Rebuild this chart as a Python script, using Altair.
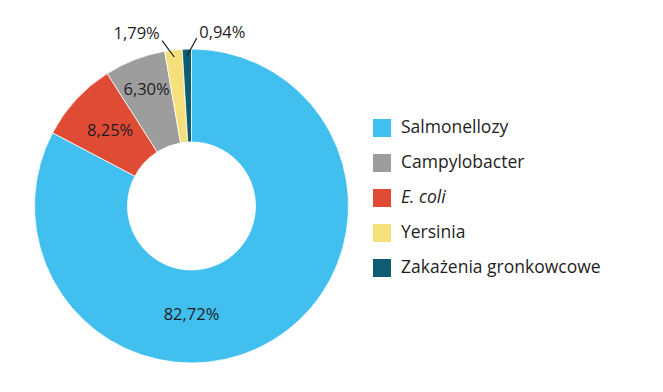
import math
import altair as alt
import pandas as pd

# ---- data ----
categories = ["Salmonellozy", "Campylobacter", "E. coli", "Yersinia", "Zakażenia gronkowcowe"]
values = [82.72, 6.30, 8.25, 1.79, 0.94]
slice_order = [0, 2, 1, 3, 4]          # clockwise position starting at 12 o'clock
colors = ["#41BFEF", "#9D9D9D", "#E04B36", "#F6E07C", "#0D5C72"]

# label placement: position along the circle (% of a full turn) and distance from centre (px)
label_turn = [50.0, 94.1, 86.9, 95.1, 2.8]
label_radius = [109, 124, 111, 181, 176]

# leader lines for the two small slices: outer point (turn %, radius) -> slice middle at radius
leader_cats = ["Yersinia", "Zakażenia gronkowcowe"]
leader_outer_turn = [97.2, 0.5]
leader_outer_radius = [168, 168]
leader_inner_radius = 150

# ---- layout ----
CX, CY = 183.5, 198.0
R_OUT, R_IN = 157, 64
FONT = "Open Sans"

df = pd.DataFrame({"cat": categories, "value": values, "ord": slice_order})
df = df.sort_values("ord").reset_index(drop=True)
df["end"] = df["value"].cumsum()
df["mid"] = df["end"] - df["value"] / 2
df = df.set_index("cat").loc[categories].reset_index()

lab = pd.DataFrame({
    "cat": categories,
    "label": [f"{v:.2f}%".replace(".", ",") for v in values],
    "turn": label_turn,
    "r": label_radius,
})

lead = pd.DataFrame({
    "cat": leader_cats,
    "t1": leader_outer_turn,
    "r1": leader_outer_radius,
    "t2": [float(df.loc[df["cat"] == c, "mid"].iloc[0]) for c in leader_cats],
    "r2": [leader_inner_radius] * len(leader_cats),
})

color = alt.Color(
    "cat:N",
    scale=alt.Scale(domain=categories, range=colors),
    sort=categories,
    legend=alt.Legend(
        orient="none", legendX=365, legendY=111, title=None,
        symbolType="square", symbolSize=324, symbolStrokeWidth=0,
        labelFont=FONT, labelFontSize=17.5, labelColor="#1e1e1e",
        labelOffset=10, rowPadding=17, labelLimit=400,
        labelFontStyle=alt.ExprRef("datum.label == 'E. coli' ? 'italic' : 'normal'"),
    ),
)

arcs = alt.Chart(df).mark_arc(
    innerRadius=R_IN, outerRadius=R_OUT, stroke="white", strokeWidth=0.8
).encode(
    theta=alt.Theta("value:Q", stack=True),
    order=alt.Order("ord:Q"),
    color=color,
    x=alt.value(CX), y=alt.value(CY),
)

labels = alt.Chart(lab).transform_calculate(
    px=f"{CX} + datum.r * sin(2 * PI * datum.turn / 100)",
    py=f"{CY} - datum.r * cos(2 * PI * datum.turn / 100)",
).mark_text(font=FONT, fontSize=16.5, color="#1e1e1e", align="center", baseline="middle").encode(
    x=alt.X("px:Q", scale=None),
    y=alt.Y("py:Q", scale=None),
    text="label:N",
)

leaders = alt.Chart(lead).transform_calculate(
    x1=f"{CX} + datum.r1 * sin(2 * PI * datum.t1 / 100)",
    y1=f"{CY} - datum.r1 * cos(2 * PI * datum.t1 / 100)",
    x2=f"{CX} + datum.r2 * sin(2 * PI * datum.t2 / 100)",
    y2=f"{CY} - datum.r2 * cos(2 * PI * datum.t2 / 100)",
).mark_rule(color="#1a1a1a", strokeWidth=1.2).encode(
    x=alt.X("x1:Q", scale=None), y=alt.Y("y1:Q", scale=None),
    x2="x2:Q", y2="y2:Q",
)

chart = alt.layer(arcs, leaders, labels).properties(
    width=647, height=376, padding=0,
    autosize=alt.AutoSizeParams(type="none"),
).configure_view(stroke=None)

chart.save("out.html", embed_options={"renderer": "svg", "actions": False})
